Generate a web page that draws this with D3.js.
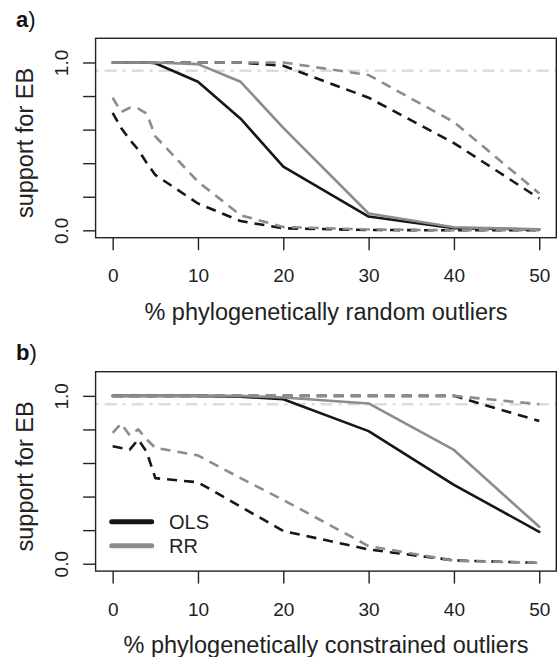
<!DOCTYPE html>
<html><head><meta charset="utf-8">
<script src="https://cdn.jsdelivr.net/npm/d3@7"></script>
<style>
body{margin:0;background:#fff;}
svg{display:block;font-family:"Liberation Sans",Arial,sans-serif;}
</style></head>
<body>
<svg id="chart" width="558" height="657"></svg>
<script>
// ---- data ----
const xVals = [0,1,2,3,4,5,10,15,20,30,40,50];
const xTicks = [0,10,20,30,40,50];
const yTicks = [0,0.2,0.4,0.6,0.8,1.0];
const yTickLabels = ["0.0","","","","","1.0"];
const threshold = 0.95;

// panel a: phylogenetically random outliers
const olsMedA = [1,1,1,1,1,0.995,0.885,0.665,0.38,0.082,0.012,0.005];
const rrMedA  = [1,1,1,1,1,1,0.99,0.885,0.61,0.10,0.018,0.006];
const olsUpA  = [1,1,1,1,1,1,1,1,0.98,0.79,0.52,0.19];
const rrUpA   = [1,1,1,1,1,1,1,1,1.0,0.925,0.645,0.22];
const olsLoA  = [0.70,0.61,0.54,0.48,0.40,0.33,0.16,0.055,0.012,0.002,0,0];
const rrLoA   = [0.79,0.705,0.73,0.725,0.695,0.56,0.29,0.09,0.02,0.005,0,0];

// panel b: phylogenetically constrained outliers
const olsMedB = [1,1,1,1,1,1,1,0.995,0.98,0.79,0.47,0.19];
const rrMedB  = [1,1,1,1,1,1,1,1,0.99,0.955,0.678,0.22];
const olsUpB  = [1,1,1,1,1,1,1,1,1,1,1.0,0.85];
const rrUpB   = [1,1,1,1,1,1,1,1,1,1,1.0,0.95];
const olsLoB  = [0.70,0.69,0.68,0.74,0.665,0.51,0.485,0.34,0.195,0.085,0.02,0.005];
const rrLoB   = [0.78,0.835,0.765,0.80,0.74,0.69,0.645,0.51,0.38,0.105,0.018,0.005];

const panels = [
  {label:"a", xTitle:"% phylogenetically random outliers",
   series:[{v:olsMedA,m:"OLS",d:false},{v:olsUpA,m:"OLS",d:true},{v:olsLoA,m:"OLS",d:true},
           {v:rrMedA,m:"RR",d:false},{v:rrUpA,m:"RR",d:true},{v:rrLoA,m:"RR",d:true}], legend:false},
  {label:"b", xTitle:"% phylogenetically constrained outliers",
   series:[{v:olsMedB,m:"OLS",d:false},{v:olsUpB,m:"OLS",d:true},{v:olsLoB,m:"OLS",d:true},
           {v:rrMedB,m:"RR",d:false},{v:rrUpB,m:"RR",d:true},{v:rrLoB,m:"RR",d:true}], legend:true}
];
const methods = ["OLS","RR"];
const colors = {OLS:"#161616", RR:"#8c8c8c"};

// ---- layout ----
const svg = d3.select("#chart");
const boxL = 95.6, boxR = 556.3, boxT = 38.3, boxB = 237.7, panelH = 333.4;
const x = d3.scaleLinear().domain([-2,52]).range([boxL,boxR]);

panels.forEach((p,i)=>{
  const oy = i*panelH;
  const g = svg.append("g").attr("transform",`translate(0,${oy})`);
  const y = d3.scaleLinear().domain([-0.044,1.144]).range([boxB,boxT]);

  // threshold line
  g.append("line").attr("x1",boxL).attr("x2",boxR)
   .attr("y1",y(threshold)).attr("y2",y(threshold))
   .attr("stroke","#dcdcdc").attr("stroke-width",2.5).attr("stroke-dasharray","3,6,12,6");

  const line = d3.line().x((d,j)=>x(xVals[j])).y(d=>y(d));
  p.series.forEach(s=>{
    g.append("path").datum(s.v).attr("d",line)
     .attr("fill","none").attr("stroke",colors[s.m]).attr("stroke-width",2.6)
     .attr("stroke-linejoin","round")
     .attr("stroke-linecap",s.d?"butt":"round")
     .attr("stroke-dasharray",s.d?"10,7":null);
  });

  // box
  g.append("rect").attr("x",boxL).attr("y",boxT).attr("width",boxR-boxL).attr("height",boxB-boxT)
   .attr("fill","none").attr("stroke","#222").attr("stroke-width",1.4);

  // x axis
  const xa = g.append("g").attr("transform",`translate(0,${boxB})`)
    .call(d3.axisBottom(x).tickValues(xTicks).tickSize(12.5).tickSizeOuter(0).tickPadding(6).tickFormat(d3.format("d")));
  xa.select(".domain").remove();
  xa.selectAll(".tick line").attr("stroke","#222").attr("stroke-width",1.4);
  xa.selectAll(".tick text").attr("font-size",19).attr("fill","#222")
    .attr("font-family","'Liberation Sans',Arial,sans-serif").attr("y",null).attr("dy",null)
    .attr("transform","translate(0,44.6)");

  // y axis
  const ya = g.append("g").attr("transform",`translate(${boxL},0)`)
    .call(d3.axisLeft(y).tickValues(yTicks).tickSize(12.5).tickSizeOuter(0).tickFormat((d,j)=>yTickLabels[j]));
  ya.select(".domain").remove();
  ya.selectAll(".tick line").attr("stroke","#222").attr("stroke-width",1.4);
  ya.selectAll(".tick text").attr("font-size",19).attr("fill","#222")
    .attr("font-family","'Liberation Sans',Arial,sans-serif")
    .attr("x",null).attr("dy",null).attr("text-anchor","middle")
    .attr("transform",`translate(${68-boxL},0) rotate(-90)`);

  // titles
  g.append("text").attr("x",326).attr("y",320).attr("text-anchor","middle")
   .attr("font-size",23.5).attr("fill","#222").text(p.xTitle);
  g.append("text").attr("transform","translate(33,143) rotate(-90)").attr("text-anchor","middle")
   .attr("font-size",23.5).attr("fill","#222").text("support for EB");

  // panel label
  const lt = g.append("text").attr("x",16).attr("y",27).attr("font-size",22).attr("fill","#111");
  lt.append("tspan").attr("font-weight","bold").text(p.label);
  lt.append("tspan").text(")");

  if(p.legend){
    methods.forEach((m,k)=>{
      const ly = 521.7 - oy + k*24;
      g.append("line").attr("x1",111.7).attr("x2",151.7).attr("y1",ly).attr("y2",ly)
       .attr("stroke",colors[m]).attr("stroke-width",5).attr("stroke-linecap","round");
      g.append("text").attr("x",169).attr("y",ly).attr("dy","0.36em")
       .attr("font-size",20).attr("fill","#222").text(m);
    });
  }
});
</script>
</body></html>
